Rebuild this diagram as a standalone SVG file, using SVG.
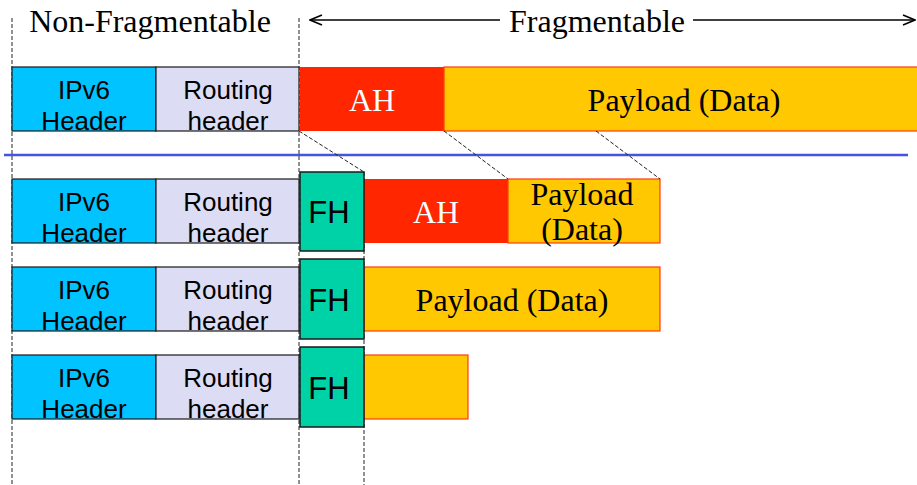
<svg xmlns="http://www.w3.org/2000/svg" width="917" height="485" viewBox="0 0 917 485">
<style>
.ipv6{fill:#00c3ff;stroke:#1a1a1a;stroke-width:1.2}
.rout{fill:#dcdcf4;stroke:#1a1a1a;stroke-width:1.2}
.ah{fill:#ff2600}
.pay{fill:#ffc800;stroke:#ff3a10;stroke-width:1.2}
.fh{fill:#00d2a8;stroke:#1a1a1a;stroke-width:1.5}
.sans{font-family:"Liberation Sans",Arial,sans-serif;font-size:26px;fill:#000;text-anchor:middle}
.fht{font-family:"Liberation Sans",Arial,sans-serif;font-size:31px;fill:#000;text-anchor:middle}
.serif{font-family:"Liberation Serif","Times New Roman",serif;font-size:32px;fill:#000;text-anchor:middle}
.ahT{font-family:"Liberation Serif","Times New Roman",serif;font-size:32px;fill:#fff;text-anchor:middle}
.dash{stroke:#222;stroke-width:1;stroke-dasharray:4,2;fill:none}
</style>
<defs>
<marker id="open" markerWidth="14" markerHeight="12" refX="13" refY="6" orient="auto-start-reverse" markerUnits="userSpaceOnUse">
<path d="M1,1 L13,6 L1,11" fill="none" stroke="#000" stroke-width="1.5"/>
</marker>
</defs>

<g id="guides">
<line class="dash" x1="12" y1="18" x2="12" y2="485"/>
<line class="dash" x1="299" y1="18" x2="299" y2="485"/>
<line class="dash" x1="364" y1="172" x2="364" y2="485"/>
</g>

<g id="labels">
<text class="serif" x="150" y="32">Non-Fragmentable</text>
<text class="serif" x="597" y="32">Fragmentable</text>
</g>

<g id="original">
<rect class="ipv6" x="12" y="67" width="144" height="64"/>
<text class="sans" x="84" y="99">IPv6</text><text class="sans" x="84" y="130">Header</text>
<rect class="rout" x="156" y="67" width="143" height="64"/>
<text class="sans" x="228" y="99">Routing</text><text class="sans" x="228" y="130">header</text>
<rect class="ah" x="300" y="67" width="144" height="64"/>
<text class="ahT" x="372" y="111">AH</text>
<rect class="pay" x="444" y="67" width="480" height="64"/>
<text class="serif" x="684" y="111">Payload (Data)</text>
</g>

<g id="separator">
<line x1="4" y1="155" x2="908" y2="155" stroke="#4455dd" stroke-width="2.5"/>
</g>

<g id="fragment1">
<rect class="ipv6" x="12" y="179" width="144" height="64"/>
<text class="sans" x="84" y="211">IPv6</text><text class="sans" x="84" y="242">Header</text>
<rect class="rout" x="156" y="179" width="143" height="64"/>
<text class="sans" x="228" y="211">Routing</text><text class="sans" x="228" y="242">header</text>
<rect class="ah" x="364" y="179" width="144" height="64"/>
<text class="ahT" x="436" y="223">AH</text>
<rect class="pay" x="508" y="179" width="152" height="64"/>
<text class="serif" x="582" y="205">Payload</text><text class="serif" x="582" y="240">(Data)</text>
<rect class="fh" x="300" y="172" width="64" height="79"/>
<text class="fht" x="329" y="223">FH</text>
</g>

<g id="fragment2">
<rect class="ipv6" x="12" y="267" width="144" height="64"/>
<text class="sans" x="84" y="299">IPv6</text><text class="sans" x="84" y="330">Header</text>
<rect class="rout" x="156" y="267" width="143" height="64"/>
<text class="sans" x="228" y="299">Routing</text><text class="sans" x="228" y="330">header</text>
<rect class="pay" x="364" y="267" width="296" height="64"/>
<text class="serif" x="512" y="311">Payload (Data)</text>
<rect class="fh" x="300" y="259" width="64" height="80"/>
<text class="fht" x="329" y="311">FH</text>
</g>

<g id="fragment3">
<rect class="ipv6" x="12" y="355" width="144" height="64"/>
<text class="sans" x="84" y="387">IPv6</text><text class="sans" x="84" y="418">Header</text>
<rect class="rout" x="156" y="355" width="143" height="64"/>
<text class="sans" x="228" y="387">Routing</text><text class="sans" x="228" y="418">header</text>
<rect class="pay" x="364" y="355" width="104" height="64"/>
<rect class="fh" x="300" y="347" width="64" height="80"/>
<text class="fht" x="329" y="399">FH</text>
</g>

<g id="connectors">
<line x1="500" y1="20" x2="310" y2="20" stroke="#000" stroke-width="1.5" marker-end="url(#open)"/>
<line x1="693" y1="20" x2="915" y2="20" stroke="#000" stroke-width="1.5" marker-end="url(#open)"/>
<line class="dash" x1="299" y1="131" x2="364" y2="172"/>
<line class="dash" x1="444" y1="131" x2="508" y2="179"/>
<line class="dash" x1="596" y1="131" x2="660" y2="179"/>
</g>
</svg>
